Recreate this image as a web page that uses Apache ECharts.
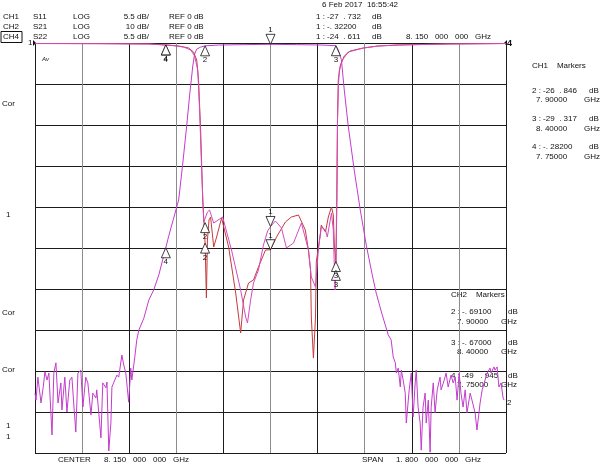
<!DOCTYPE html>
<html lang="en">
<head>
<meta charset="UTF-8">
<title>Network analyzer - S11 / S21 / S22</title>
<style>
    html, body { margin: 0; padding: 0; background: #fff; }
    #main { width: 600px; height: 464px; }
</style>
</head>
<body>
<div id="main"></div>
<script src="https://cdn.jsdelivr.net/npm/echarts@6/dist/echarts.min.js"></script>
<script>
// sweep: center 8.15 GHz, span 1.8 GHz
const F0 = 7.25;

// CH1 S11 (5.5 dB/div)
const s11Freq = [7.250, 7.494, 7.685, 7.750, 7.799, 7.837, 7.856, 7.868, 7.875, 7.883, 7.891, 7.900, 7.905, 7.909,
    7.915, 7.921, 7.933, 7.944, 7.963, 7.990, 8.017, 8.036, 8.047, 8.066, 8.085, 8.104, 8.131, 8.150, 8.173, 8.207,
    8.230, 8.257, 8.283, 8.295, 8.303, 8.306, 8.314, 8.322, 8.325, 8.341, 8.344, 8.360, 8.371, 8.383, 8.390, 8.394,
    8.400, 8.404, 8.406, 8.409, 8.417, 8.432, 8.455, 8.505, 8.562, 8.638, 8.829, 9.050];
const s11Db = [-0.07, -0.07, -0.13, -0.28, -0.40, -0.67, -1.21, -2.28, -4.96, -11.67, -21.06, -26.85, -34.21, -26.43,
    -23.74, -23.34, -27.37, -26.03, -23.48, -27.37, -33.54, -38.90, -34.48, -32.20, -31.79, -30.05, -27.77, -27.73, -26.03, -24.01,
    -23.34, -23.07, -25.09, -27.77, -30.45, -36.76, -42.26, -36.76, -29.38, -25.49, -24.42, -25.35, -23.34, -22.00, -23.07, -27.10,
    -29.32, -21.06, -10.33, -4.96, -2.95, -1.74, -1.07, -0.67, -0.40, -0.27, -0.13, -0.07];

// CH4 S22 (5.5 dB/div)
const s22Freq = [7.250, 7.685, 7.761, 7.818, 7.845, 7.860, 7.872, 7.879, 7.887, 7.895, 7.900, 7.909, 7.917, 7.933,
    7.967, 8.001, 8.036, 8.055, 8.062, 8.074, 8.085, 8.104, 8.123, 8.139, 8.150, 8.169, 8.192, 8.211, 8.238, 8.268,
    8.295, 8.306, 8.322, 8.333, 8.344, 8.360, 8.367, 8.383, 8.390, 8.394, 8.397, 8.400, 8.403, 8.406, 8.410, 8.413,
    8.425, 8.447, 8.505, 8.562, 8.638, 8.829, 9.050];
const s22Db = [-0.07, -0.13, -0.27, -0.54, -0.94, -1.74, -3.62, -8.99, -17.04, -24.01, -24.10, -22.67, -22.40, -24.15,
    -23.34, -27.77, -33.14, -36.76, -37.56, -34.48, -32.20, -30.45, -27.10, -25.22, -24.61, -23.88, -24.82, -27.50, -26.83, -24.15,
    -27.77, -31.39, -32.73, -27.77, -24.68, -25.09, -26.03, -22.81, -25.09, -30.00, -33.14, -30.50, -20.00, -10.50, -5.50, -3.62,
    -2.28, -1.21, -0.67, -0.40, -0.27, -0.13, -0.07];

// CH2 S21 (10 dB/div)
const s21Freq = [7.250, 7.254, 7.261, 7.273, 7.281, 7.288, 7.296, 7.303, 7.315, 7.322, 7.330, 7.338, 7.349, 7.353,
    7.364, 7.372, 7.383, 7.391, 7.399, 7.406, 7.414, 7.425, 7.433, 7.444, 7.452, 7.464, 7.471, 7.483, 7.486, 7.502,
    7.509, 7.521, 7.525, 7.532, 7.540, 7.544, 7.555, 7.563, 7.570, 7.582, 7.589, 7.597, 7.608, 7.616, 7.620, 7.631,
    7.639, 7.647, 7.666, 7.685, 7.704, 7.723, 7.750, 7.761, 7.780, 7.799, 7.814, 7.830, 7.841, 7.853, 7.860, 7.868,
    7.883, 7.900, 7.950, 8.050, 8.150, 8.250, 8.350, 8.400, 8.409, 8.421, 8.432, 8.447, 8.470, 8.493, 8.516, 8.539,
    8.554, 8.577, 8.600, 8.611, 8.619, 8.627, 8.631, 8.638, 8.646, 8.650, 8.657, 8.665, 8.669, 8.680, 8.688, 8.695,
    8.703, 8.707, 8.714, 8.722, 8.726, 8.733, 8.741, 8.745, 8.753, 8.760, 8.764, 8.772, 8.779, 8.787, 8.798, 8.802,
    8.814, 8.821, 8.829, 8.840, 8.848, 8.856, 8.863, 8.871, 8.878, 8.886, 8.894, 8.901, 8.913, 8.920, 8.932, 8.939,
    8.951, 8.959, 8.970, 8.978, 8.989, 8.993, 9.004, 9.008, 9.016, 9.023, 9.031, 9.039, 9.043];
const s21Db = [-85.4, -87.1, -81.5, -87.8, -84.1, -80.2, -82.2, -80.5, -95.6, -80.5, -78.0, -87.8, -82.9, -89.5,
    -81.5, -90.0, -82.2, -81.5, -88.8, -94.9, -80.5, -79.8, -88.8, -81.5, -82.9, -90.7, -85.4, -86.6, -84.6, -96.3,
    -82.9, -84.1, -82.7, -99.5, -92.7, -83.9, -82.2, -81.0, -81.5, -76.1, -78.5, -80.5, -87.6, -79.3, -82.2, -76.8,
    -72.4, -70.0, -67.1, -62.7, -60.2, -56.6, -49.9, -47.1, -42.7, -38.3, -29.8, -20.0, -12.7, -5.6, -2.7, -1.5,
    -1.0, -0.69, -0.50, -0.40, -0.32, -0.40, -0.50, -0.67, -1.7, -4.1, -11.5, -20.2, -31.0, -40.7, -49.3, -56.6,
    -61.0, -66.3, -71.2, -72.4, -76.6, -78.0, -80.5, -79.3, -83.9, -79.8, -82.2, -85.4, -92.7, -84.6, -80.5, -91.2,
    -82.9, -79.8, -88.8, -92.7, -99.3, -88.8, -85.4, -92.7, -87.1, -99.8, -88.8, -82.9, -90.2, -84.6, -81.5, -84.6,
    -82.2, -80.5, -83.9, -81.0, -82.9, -81.5, -87.1, -80.5, -85.4, -88.8, -84.6, -90.2, -85.4, -87.1, -90.2, -94.4,
    -87.8, -84.6, -82.2, -80.5, -79.3, -80.5, -79.0, -79.8, -79.0, -83.9, -82.9, -86.6, -87.1];

// markers 1..4
const markerNames = ['1', '2', '3', '4'];
const markerFreq = [8.15, 7.90, 8.40, 7.75];
const s11Marker = [-27.732, -26.846, -29.317, -0.282];
const s21Marker = [-0.322, -0.691, -0.670, -49.945];
const s22Marker = [-24.611, -24.1, -30.5, -0.25];

const toX = f => Math.round((f - F0) * 100000) / 100;   // MHz from start of sweep
const pts = (fs, vs) => fs.map((f, i) => [toX(f), vs[i]]);

function markers(vals) {
    return markerFreq.map((f, i) => {
        const down = i === 0;
        return {
            coord: [toX(f), vals[i]],
            symbol: down ? 'path://M0,0L10,0L5,10Z' : 'triangle',
            symbolSize: [9, 10],
            symbolOffset: [0, down ? -5 : 5],
            itemStyle: { color: '#fff', borderColor: '#111', borderWidth: 0.8 },
            label: {
                show: true, formatter: markerNames[i], position: down ? 'top' : 'bottom',
                distance: 0, color: '#111', fontSize: 8, fontFamily: 'Liberation Sans'
            }
        };
    });
}

const FONT = '8px "Liberation Sans", Arial, sans-serif';
function txt(x, y, s, align) {
    return {
        type: 'text', x: x, y: y, silent: true,
        style: { text: s, font: FONT, fill: '#111', align: align || 'left', verticalAlign: 'middle' }
    };
}

var myChart = echarts.init(document.getElementById('main'));

var option = {
    animation: false,
    backgroundColor: '#fff',
    grid: { left: 35, right: 94, top: 43, bottom: 11 },
    xAxis: {
        type: 'value', min: 0, max: 1800, interval: 180,
        axisLabel: { show: false }, axisTick: { show: false }, axisLine: { show: false },
        splitLine: { show: true, lineStyle: { color: ['#1c1c1c', '#8c8c8c'], width: 1 } }
    },
    yAxis: [
        {
            type: 'value', min: -55, max: 0, interval: 5.5,
            axisLabel: { show: false }, axisTick: { show: false }, axisLine: { show: false },
            splitLine: { show: true, lineStyle: { color: '#1c1c1c', width: 1 } }
        },
        {
            type: 'value', min: -100, max: 0, interval: 10, show: false,
            splitLine: { show: false }
        }
    ],
    series: [
        {
            name: 'S21', type: 'line', yAxisIndex: 1, data: pts(s21Freq, s21Db),
            showSymbol: false, lineStyle: { color: '#c23ccc', width: 1 },
            markPoint: { silent: true, data: markers(s21Marker) }
        },
        {
            name: 'S11', type: 'line', yAxisIndex: 0, data: pts(s11Freq, s11Db),
            showSymbol: false, lineStyle: { color: '#c43c3c', width: 1 },
            markPoint: { silent: true, data: markers(s11Marker) }
        },
        {
            name: 'S22', type: 'line', yAxisIndex: 0, data: pts(s22Freq, s22Db),
            showSymbol: false, lineStyle: { color: '#d24cc0', width: 1 },
            markPoint: { silent: true, data: markers(s22Marker) }
        }
    ],
    graphic: {
        elements: [
            txt(322, 5, '6 Feb 2017  16:55:42'),
            // channel header
            txt(3, 17, 'CH1'), txt(33, 17, 'S11'), txt(73, 17, 'LOG'), txt(149, 17, '5.5 dB/', 'right'), txt(169, 17, 'REF 0 dB'),
            txt(316, 17, '1 : -27  . 732'), txt(372, 17, 'dB'),
            txt(3, 27, 'CH2'), txt(33, 27, 'S21'), txt(73, 27, 'LOG'), txt(149, 27, '10 dB/', 'right'), txt(169, 27, 'REF 0 dB'),
            txt(316, 27, '1 : -. 32200'), txt(372, 27, 'dB'),
            txt(3, 37, 'CH4'), txt(33, 37, 'S22'), txt(73, 37, 'LOG'), txt(149, 37, '5.5 dB/', 'right'), txt(169, 37, 'REF 0 dB'),
            txt(316, 37, '1 : -24  . 611'), txt(372, 37, 'dB'), txt(406, 37, '8. 150   000   000   GHz'),
            { type: 'rect', shape: { x: 1, y: 31.5, width: 21, height: 11 }, style: { fill: 'none', stroke: '#111', lineWidth: 1 } },
            // CH1 marker table
            txt(532, 66, 'CH1    Markers'),
            txt(532, 91, '2 : -26  . 846'), txt(589, 91, 'dB'), txt(536, 100, '7. 90000'), txt(584, 100, 'GHz'),
            txt(532, 119, '3 : -29  . 317'), txt(589, 119, 'dB'), txt(536, 129, '8. 40000'), txt(584, 129, 'GHz'),
            txt(532, 147, '4 : -. 28200'), txt(589, 147, 'dB'), txt(536, 157, '7. 75000'), txt(584, 157, 'GHz'),
            // CH2 marker table
            txt(451, 295, 'CH2    Markers'),
            txt(451, 312, '2 : -. 69100'), txt(508, 312, 'dB'), txt(457, 322, '7. 90000'), txt(501, 322, 'GHz'),
            txt(451, 343, '3 : -. 67000'), txt(508, 343, 'dB'), txt(457, 352, '8. 40000'), txt(501, 352, 'GHz'),
            txt(451, 376, '4 : -49   . 945'), txt(508, 376, 'dB'), txt(457, 385, '7. 75000'), txt(501, 385, 'GHz'),
            txt(507, 403, '2'),
            // left side
            txt(2, 104, 'Cor'), txt(6, 215, '1'), txt(2, 313, 'Cor'), txt(2, 370, 'Cor'), txt(6, 426, '1'), txt(6, 437, '1'),
            { type: 'text', x: 42, y: 59, silent: true, style: { text: 'Av', font: 'italic 6px "Liberation Sans"', fill: '#111', verticalAlign: 'middle' } },
            txt(28, 43, '1'),
            { type: 'polygon', shape: { points: [[33, 40], [36, 43], [33, 46]] }, style: { fill: '#111' } },
            { type: 'polygon', shape: { points: [[507, 40], [504, 43], [507, 46]] }, style: { fill: '#111' } },
            { type: 'text', x: 507, y: 44, silent: true, style: { text: '4', font: 'bold 9px "Liberation Sans"', fill: '#111', verticalAlign: 'middle' } },
            // bottom
            txt(58, 460, 'CENTER'), txt(104, 460, '8. 150   000   000   GHz'),
            txt(362, 460, 'SPAN'), txt(396, 460, '1. 800   000   000   GHz')
        ]
    }
};

myChart.setOption(option);
</script>
</body>
</html>
